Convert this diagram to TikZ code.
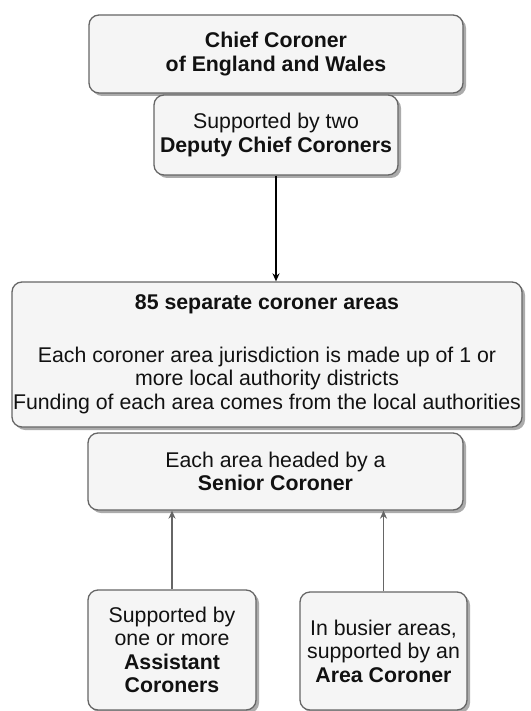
\documentclass[tikz,border=0pt]{standalone}
\usepackage{fontspec}
\setmainfont{Liberation Sans}
\usetikzlibrary{arrows.meta,shadows}
\definecolor{boxfill}{HTML}{F5F5F5}
\definecolor{boxline}{HTML}{666666}
\definecolor{shadowc}{HTML}{ABABAB}
\definecolor{txt}{HTML}{111111}
\tikzset{
  box/.style={draw=boxline, fill=boxfill, rounded corners=10pt, line width=1.3pt,
    align=center, text=txt, inner sep=0pt,
    font=\fontsize{21.3}{23.5}\selectfont,
    drop shadow={shadow xshift=3pt, shadow yshift=-3pt, fill=shadowc, opacity=1, draw=none}},
  conn/.style={line width=1.3pt, -{Stealth[length=8pt,width=7pt]}},
}
\begin{document}
\begin{tikzpicture}[x=1pt,y=1pt]
\useasboundingbox (0,0) rectangle (530,-711);
\node[box, minimum width=374pt, minimum height=78pt] (chief) at (276,-54)
  {\textbf{Chief Coroner}\\\textbf{of England and Wales}};
\node[box, minimum width=244pt, minimum height=80pt] (deputy) at (276,-135)
  {Supported by two\\\textbf{Deputy Chief Coroners}};
\node[box, minimum width=510pt, minimum height=145pt] (areas) at (267,-354.5)
  {\textbf{85 separate coroner areas}\\[29pt]Each coroner area jurisdiction is made up of 1 or\\more local authority districts\\Funding of each area comes from the local authorities};
\node[box, minimum width=375pt, minimum height=77pt] (senior) at (275.5,-471.5)
  {Each area headed by a\\\textbf{Senior Coroner}};
\node[box, minimum width=168pt, minimum height=120pt] (assist) at (172,-650)
  {Supported by\\one or more\\\textbf{Assistant}\\\textbf{Coroners}};
\node[box, minimum width=167pt, minimum height=118pt] (areac) at (383.5,-651)
  {In busier areas,\\supported by an\\\textbf{Area Coroner}};
\draw[conn, draw=black] (deputy.south) -- (deputy.south |- areas.north);
\draw[conn, draw=boxline] (assist.north) -- (assist.north |- senior.south);
\draw[conn, draw=boxline] (areac.north) -- (areac.north |- senior.south);
\end{tikzpicture}
\end{document}
